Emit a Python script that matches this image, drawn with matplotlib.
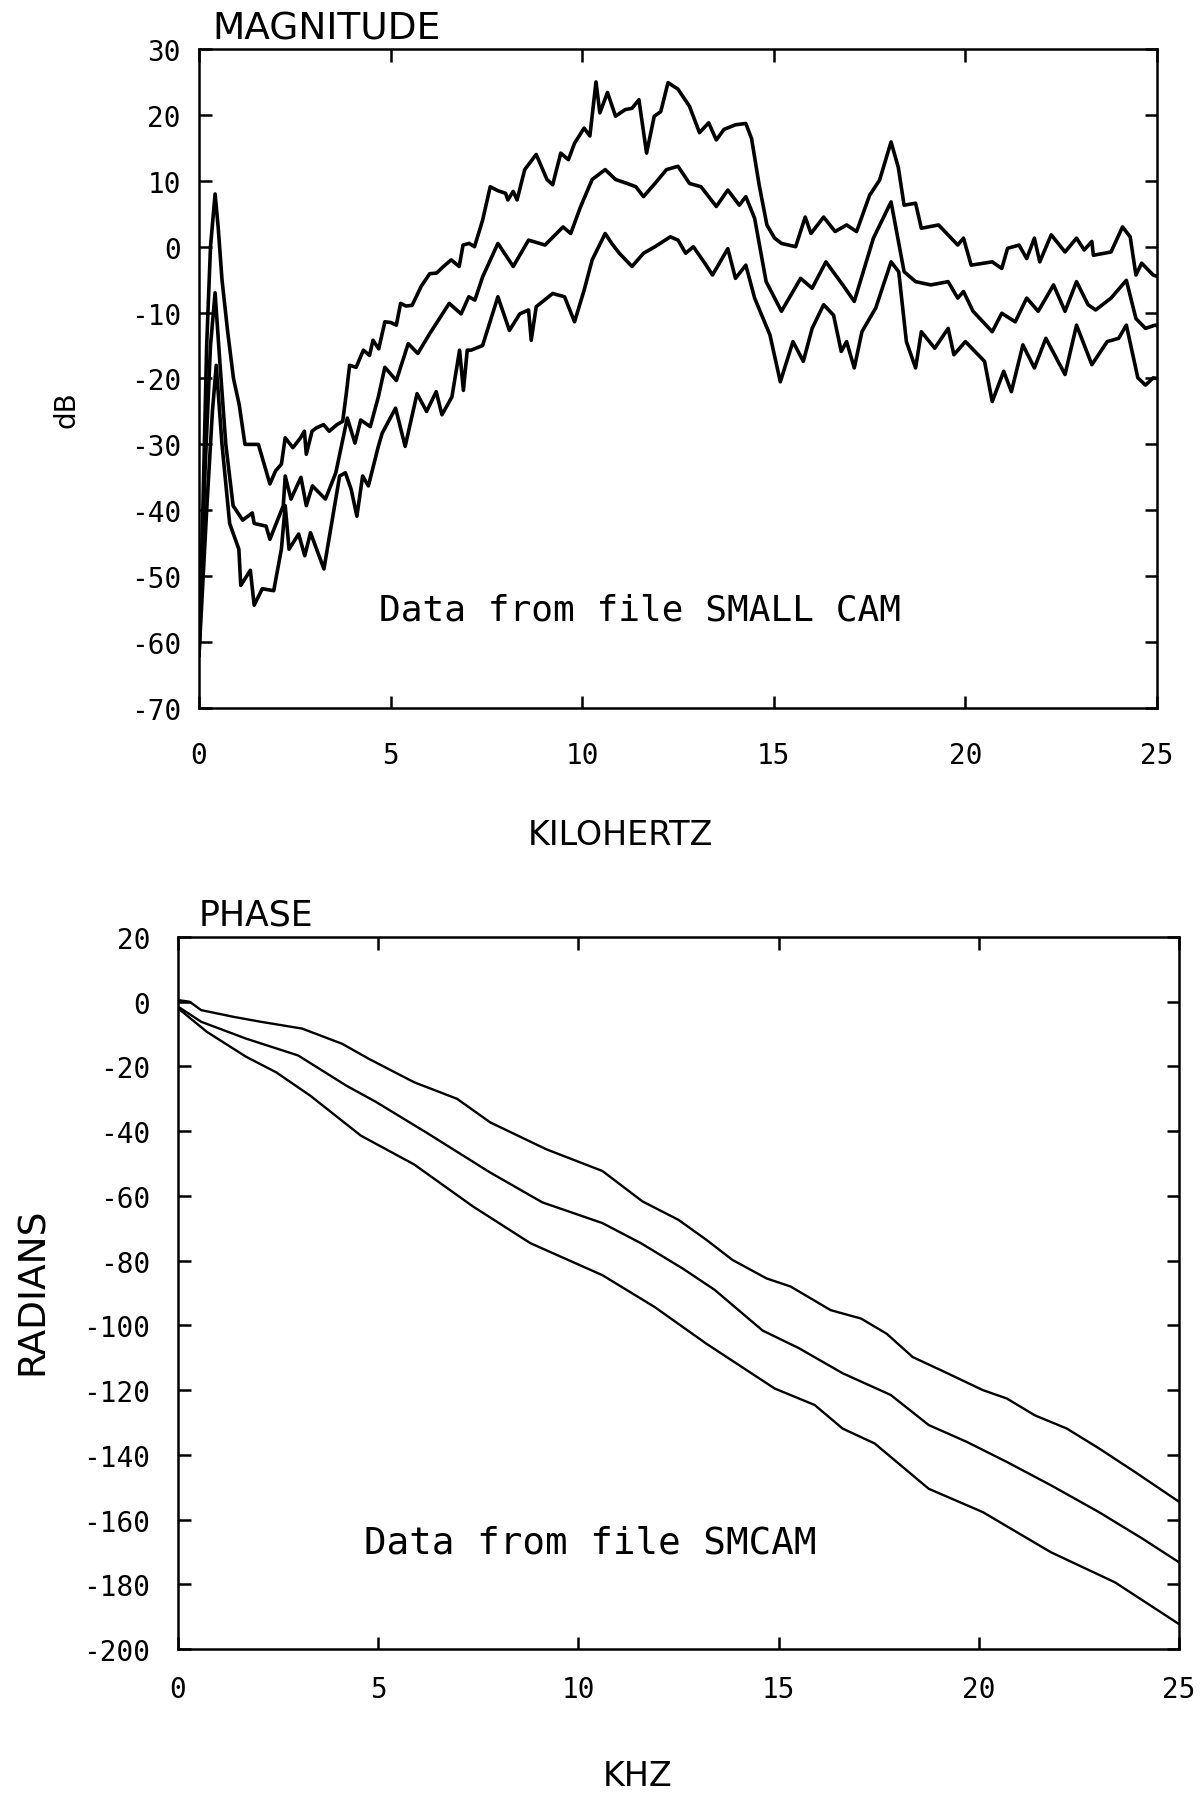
import matplotlib
matplotlib.use("Agg")
import matplotlib.pyplot as plt

plt.rcParams['axes.unicode_minus'] = False

# --- magnitude data (kHz, dB) ---
freq_a = [0.0, 0.1, 0.2, 0.3, 0.42, 0.5, 0.6, 0.75, 0.9, 1.05,
          1.2, 1.4, 1.55, 1.7, 1.85, 2.0, 2.15, 2.25, 2.45, 2.65,
          2.75, 2.8, 2.95, 3.06, 3.25, 3.4, 3.6, 3.75, 3.85, 3.93,
          4.1, 4.29, 4.45, 4.54, 4.69, 4.85, 5.0, 5.15, 5.26, 5.4,
          5.56, 5.8, 6.02, 6.2, 6.38, 6.58, 6.79, 6.89, 7.05, 7.19,
          7.4, 7.6, 7.8, 8.0, 8.06, 8.2, 8.3, 8.5, 8.8, 9.08,
          9.23, 9.44, 9.64, 9.8, 10.05, 10.2, 10.36, 10.46, 10.66, 10.87,
          11.12, 11.3, 11.48, 11.68, 11.88, 12.05, 12.24, 12.5, 12.8, 13.06,
          13.3, 13.5, 13.7, 14.0, 14.27, 14.42, 14.62, 14.82, 15.02, 15.2,
          15.57, 15.82, 15.97, 16.3, 16.6, 16.9, 17.16, 17.5, 17.76, 18.06,
          18.25, 18.4, 18.7, 18.85, 19.3, 19.8, 19.95, 20.15, 20.7, 20.95,
          21.1, 21.4, 21.6, 21.8, 21.94, 22.24, 22.6, 22.9, 23.1, 23.3,
          23.34, 23.8, 24.1, 24.3, 24.45, 24.6, 24.9, 25.0]
db_a = [-62, -40, -15, 0, 8, 3, -5, -13, -20, -24,
        -30, -30, -30, -33, -36, -34, -33, -29, -30.5, -29,
        -28, -31.5, -28, -27.5, -27, -28, -27, -26.5, -22, -18,
        -18.3, -15.7, -16.5, -14.2, -15.5, -11.4, -11.5, -11.9, -8.6, -9,
        -8.9, -6, -4.1, -4, -3, -2, -3, 0.25, 0.5, 0,
        4, 9.1, 8.5, 8.1, 7.1, 8.4, 7.1, 11.7, 14, 10.2,
        9.4, 14.2, 13.2, 15.7, 18, 16.8, 25, 20.3, 23.4, 19.8,
        20.8, 21, 22.3, 14.2, 19.8, 20.5, 24.9, 23.9, 21.3, 17.3,
        18.8, 16.2, 17.8, 18.5, 18.7, 16.4, 9.3, 3.3, 1.3, 0.5,
        0, 4.5, 2, 4.5, 2.3, 3.3, 2.3, 7.8, 10.1, 15.9,
        12, 6.3, 6.6, 2.8, 3.3, 0.25, 1.3, -2.8, -2.3, -3.3,
        -0.25, 0.25, -1.8, 1.3, -2.3, 1.8, -0.8, 1.3, -0.5, 0.8,
        -1.3, -0.8, 3, 1.5, -4.3, -2.5, -4.3, -4.5]

freq_b = [0.0, 0.15, 0.3, 0.42, 0.55, 0.7, 0.89, 1.14, 1.39, 1.44,
          1.75, 1.85, 2.2, 2.25, 2.4, 2.66, 2.8, 2.96, 3.3, 3.57,
          3.87, 4.07, 4.22, 4.47, 4.68, 4.85, 5.15, 5.46, 5.71, 6.02,
          6.53, 6.84, 7.04, 7.2, 7.4, 7.8, 8.2, 8.4, 8.6, 9.03,
          9.5, 9.7, 9.96, 10.26, 10.6, 10.87, 11.17, 11.4, 11.6, 11.9,
          12.2, 12.5, 12.8, 13.1, 13.5, 13.8, 14.1, 14.27, 14.5, 14.8,
          15.2, 15.7, 16.0, 16.36, 16.8, 17.1, 17.6, 18.06, 18.4, 18.7,
          19.1, 19.55, 19.8, 19.95, 20.2, 20.7, 20.95, 21.3, 21.6, 21.9,
          22.3, 22.6, 22.9, 23.2, 23.4, 23.8, 24.2, 24.45, 24.7, 24.95,
          25.0]
db_b = [-62, -35, -15, -7, -18, -30, -39.3, -41.5, -40.4, -42,
        -42.4, -44.4, -39.3, -34.8, -38.3, -35, -39.3, -36.3, -38.3, -34.3,
        -26, -29.8, -26.3, -27.3, -22.8, -18.3, -20.3, -14.7, -16.2, -13.2,
        -8.6, -10.2, -7.6, -8.1, -4.6, 0.5, -3, -1, 1, 0.25,
        3, 2, 6.1, 10.2, 11.7, 10.2, 9.6, 9.1, 7.6, 9.6,
        11.7, 12.2, 9.6, 9.1, 6.1, 8.6, 6.3, 7.6, 4.3, -5.3,
        -9.8, -4.8, -6.3, -2.3, -5.8, -8.3, 1.3, 6.8, -3.8, -5.3,
        -5.8, -5.3, -7.8, -6.8, -9.8, -12.9, -10.1, -11.4, -7.8, -9.8,
        -5.8, -9.8, -5.3, -8.8, -9.6, -7.8, -5.1, -10.9, -12.4, -11.9,
        -12]

freq_c = [0.0, 0.2, 0.35, 0.45, 0.6, 0.8, 1.04, 1.09, 1.34, 1.44,
          1.65, 1.95, 2.15, 2.25, 2.35, 2.6, 2.76, 2.91, 3.26, 3.67,
          3.82, 3.97, 4.12, 4.27, 4.42, 4.68, 4.78, 5.13, 5.38, 5.69,
          5.94, 6.19, 6.34, 6.6, 6.8, 6.9, 7.0, 7.1, 7.4, 7.8,
          8.1, 8.37, 8.6, 8.67, 8.8, 9.23, 9.54, 9.8, 10.05, 10.26,
          10.6, 10.77, 10.97, 11.3, 11.6, 11.9, 12.3, 12.5, 12.7, 12.9,
          13.2, 13.4, 13.8, 14.0, 14.27, 14.5, 14.9, 15.17, 15.5, 15.77,
          16.0, 16.3, 16.56, 16.76, 16.9, 17.1, 17.3, 17.66, 18.06, 18.26,
          18.46, 18.7, 18.85, 19.2, 19.55, 19.7, 20.0, 20.5, 20.7, 21.0,
          21.2, 21.5, 21.8, 22.1, 22.6, 22.9, 23.3, 23.7, 24.0, 24.2,
          24.5, 24.7, 24.9, 25.0]
db_c = [-62, -40, -25, -18, -30, -42, -45.9, -51.4, -49.1, -54.4,
        -51.9, -52.2, -45.9, -39.3, -45.9, -43.6, -46.9, -43.4, -48.9, -34.8,
        -34.3, -36.8, -40.9, -34.8, -36.3, -30.3, -28.3, -24.5, -30.3, -22.3,
        -25, -22, -25.5, -22.8, -15.7, -21.8, -15.7, -15.7, -15, -7.6,
        -12.7, -10.2, -9.6, -14.2, -9.1, -7.1, -7.6, -11.4, -6.6, -2,
        2, 0.5, -1, -3, -1, 0, 1.5, 1, -1, 0,
        -2.5, -4.3, -0.3, -4.8, -2.8, -7.8, -13.4, -20.5, -14.4, -17.4,
        -12.4, -8.8, -10.4, -15.9, -14.4, -18.4, -12.9, -9.3, -2.3, -3.8,
        -14.4, -18.4, -12.9, -15.4, -12.4, -16.4, -14.4, -17.4, -23.5, -18.9,
        -22, -14.9, -18.4, -13.9, -19.4, -11.9, -17.9, -14.4, -13.9, -11.9,
        -19.9, -21, -19.9, -20]

# --- phase data (kHz, radians) ---
freq_p1 = [0, 0.29, 0.58, 1.4, 2.07, 3.1, 4.1, 4.76, 5.9, 6.97, 7.8, 9.2,
           10.6, 11.6, 12.5, 13.2, 13.85, 14.7, 15.3, 16.3, 17.06, 17.7,
           18.35, 19.08, 20.1, 20.7, 21.4, 22.2, 23.0, 23.9, 25.0]
rad_p1 = [0.5, 0, -2.6, -4.7, -6.2, -8.3, -13, -17.6, -24.9, -30, -37.3, -45.6,
          -52.3, -61.7, -67.4, -73.6, -79.8, -85.5, -88, -95.3, -97.9, -102.6,
          -109.8, -114, -120, -122.6, -127.8, -131.9, -138, -145.3, -154.5]
freq_p2 = [0, 0.58, 1.7, 3.0, 4.2, 4.95, 6.2, 7.8, 9.1, 10.6, 11.56, 12.6,
           13.4, 14.6, 15.5, 16.6, 17.8, 18.75, 19.7, 20.7, 21.8, 23.0, 24.1, 25.0]
rad_p2 = [-1.5, -6.2, -11.4, -16.6, -25.9, -31, -40.4, -52.8, -62, -68.4, -74.6, -82.4,
          -89, -101.6, -107, -114.8, -121.5, -130.8, -136, -142.2, -149.4, -157.7, -166, -173.2]
freq_p3 = [0, 0.72, 1.7, 2.45, 3.3, 4.57, 5.9, 7.36, 8.8, 10.6, 11.9, 13.2,
           14.9, 15.9, 16.6, 17.4, 18.75, 20.1, 21.8, 23.4, 25.0]
rad_p3 = [-2, -9.3, -17, -21.8, -29, -41.4, -50.3, -63.2, -74.6, -84.5, -94.3, -105.7,
          -119.5, -124.6, -131.9, -136.5, -150.5, -157.7, -170.1, -179.4, -192.3]

khz_ticks = [0, 5, 10, 15, 20, 25]
db_ticks = list(range(-70, 31, 10))
rad_ticks = list(range(-200, 21, 20))

W, H = 1204, 1799
fig = plt.figure(figsize=(W / 100, H / 100), dpi=100)


def box(l, t, r, b):
    return [l / W, 1 - b / H, (r - l) / W, (b - t) / H]


mono = 'DejaVu Sans Mono'


def style(ax, xpad, ypad):
    for s in ax.spines.values():
        s.set_linewidth(1.8)
    ax.tick_params(direction='in', length=9, width=1.8, top=True, right=True,
                   labelsize=20, colors='black')
    ax.tick_params(axis='x', pad=xpad)
    ax.tick_params(axis='y', pad=ypad)
    for lab in ax.get_xticklabels() + ax.get_yticklabels():
        lab.set_family(mono)


# magnitude
ax1 = fig.add_axes(box(199, 50, 1157, 709))
ax1.plot(freq_a, db_a, color='black', lw=2.6)
ax1.plot(freq_b, db_b, color='black', lw=2.6)
ax1.plot(freq_c, db_c, color='black', lw=2.6)
ax1.set_xlim(0, 25)
ax1.set_ylim(-70, 30)
ax1.set_xticks(khz_ticks)
ax1.set_yticks(db_ticks)
style(ax1, 24, 13)
ax1.text(4.7, -55, 'Data from file SMALL CAM', family=mono, fontsize=26, va='center')

fig.text(212 / W, 1 - 30 / H, 'MAGNITUDE', fontsize=27, va='center')
fig.text(67 / W, 1 - 410 / H, 'dB', fontsize=20, rotation=90, ha='center', va='center')
fig.text(620 / W, 1 - 836 / H, 'KILOHERTZ', fontsize=24, ha='center', va='center')

# phase
ax2 = fig.add_axes(box(178, 938, 1179, 1650))
ax2.plot(freq_p1, rad_p1, color='black', lw=1.7)
ax2.plot(freq_p2, rad_p2, color='black', lw=1.7)
ax2.plot(freq_p3, rad_p3, color='black', lw=1.7)
ax2.set_xlim(0, 25)
ax2.set_ylim(-200, 20)
ax2.set_xticks(khz_ticks)
ax2.set_yticks(rad_ticks)
style(ax2, 19, 20)
ax2.text(4.65, -167, 'Data from file SMCAM', family=mono, fontsize=27, va='center')

fig.text(199 / W, 1 - 916 / H, 'PHASE', fontsize=25, va='center')
fig.text(33 / W, 1 - 1291 / H, 'RADIANS', fontsize=27, rotation=90, ha='center', va='center')
fig.text(638 / W, 1 - 1777 / H, 'KHZ', fontsize=24, ha='center', va='center')

fig.savefig('out.png', dpi=100, facecolor='white')
